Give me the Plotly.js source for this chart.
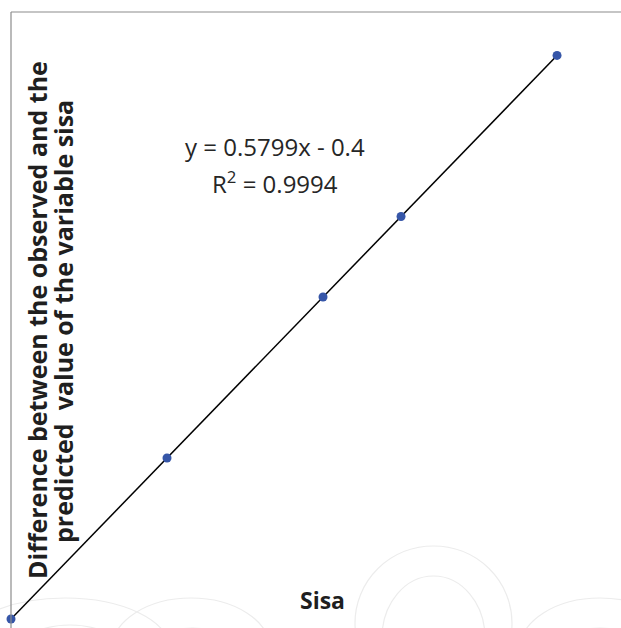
<!DOCTYPE html>
<html>
<head>
<meta charset="utf-8">
<script src="https://cdn.plot.ly/plotly-3.0.1.min.js"></script>
<style>html,body{margin:0;padding:0;background:#fff;}#chart{width:621px;height:628px;}</style>
</head>
<body>
<div id="chart"></div>
<script>
// Data
const sisaX = [1, 3, 5, 6, 8];
const diffY = [0.18, 1.34, 2.50, 3.08, 4.24];
const slope = 0.5799;
const intercept = -0.4;
const equationLines = ["y = 0.5799x - 0.4", "R<sup>2</sup> = 0.9994"];
const yTitleLines = ["Difference between the observed and the", "predicted  value of the variable sisa"];
const xTitleText = "Sisa";

const fitX = [sisaX[0], sisaX[sisaX.length - 1]];
const fitY = fitX.map(x => slope * x + intercept);

const traces = [
  {x: fitX, y: fitY, mode: 'lines', line: {color: '#000', width: 1.5}, hoverinfo: 'skip', cliponaxis: false},
  {x: sisaX, y: diffY, mode: 'markers', marker: {color: '#3656a8', size: 9}, cliponaxis: false}
];

// paper coordinate helpers (plot area: left 11px, top 12px, 610 x 616)
const px = v => (v - 11) / 610;
const py = v => (628 - v) / 616;

const wm = '#ececec';
function ring(x0, y0, x1, y1) {
  return {type: 'circle', xref: 'paper', yref: 'paper', x0: px(x0), y0: py(y1), x1: px(x1), y1: py(y0), line: {color: wm, width: 1.2}, layer: 'below'};
}

const titleFont = {family: 'Open Sans, sans-serif', size: 25, color: '#1f1f1f', weight: 'bold'};
const eqFont = {family: 'Open Sans, sans-serif', size: 24, color: '#262626'};

const layout = {
  width: 621, height: 628,
  margin: {l: 11, r: 0, t: 12, b: 0},
  paper_bgcolor: '#fff', plot_bgcolor: 'rgba(0,0,0,0)',
  showlegend: false,
  xaxis: {range: [1, 8.82], showgrid: false, zeroline: false, showticklabels: false, ticks: '', showline: false},
  yaxis: {range: [0.115, 4.553], showgrid: false, zeroline: false, showticklabels: false, ticks: '', showline: false},
  shapes: [
    ring(-40, 598, 170, 700), ring(10, 625, 130, 700),
    ring(112, 598, 270, 700), ring(145, 628, 240, 700),
    ring(355, 546, 512, 700), ring(382, 576, 485, 700),
    ring(520, 598, 680, 700), ring(550, 628, 650, 700),
    {type: 'line', xref: 'paper', yref: 'paper', x0: 0, x1: 1.02, y0: 1, y1: 1, line: {color: '#8c8c8c', width: 1.2}},
    {type: 'line', xref: 'paper', yref: 'paper', x0: 0, x1: 0, y0: -0.02, y1: 1, line: {color: '#8c8c8c', width: 1.2}}
  ],
  annotations: [
    {xref: 'paper', yref: 'paper', x: px(37), y: py(320), text: yTitleLines[0], textangle: -90, showarrow: false,
     font: titleFont, xanchor: 'center', yanchor: 'middle'},
    {xref: 'paper', yref: 'paper', x: px(63), y: py(322), text: yTitleLines[1], textangle: -90, showarrow: false,
     font: titleFont, xanchor: 'center', yanchor: 'middle'},
    {xref: 'paper', yref: 'paper', x: px(322), y: py(600), text: xTitleText, showarrow: false,
     font: Object.assign({}, titleFont, {size: 23}), xanchor: 'center', yanchor: 'middle'},
    {xref: 'paper', yref: 'paper', x: px(275), y: py(146), text: equationLines[0], showarrow: false,
     font: eqFont, xanchor: 'center', yanchor: 'middle'},
    {xref: 'paper', yref: 'paper', x: px(275), y: py(182), text: equationLines[1], showarrow: false,
     font: eqFont, xanchor: 'center', yanchor: 'middle'}
  ]
};

Plotly.newPlot('chart', traces, layout, {displayModeBar: false, staticPlot: true});
</script>
</body>
</html>
